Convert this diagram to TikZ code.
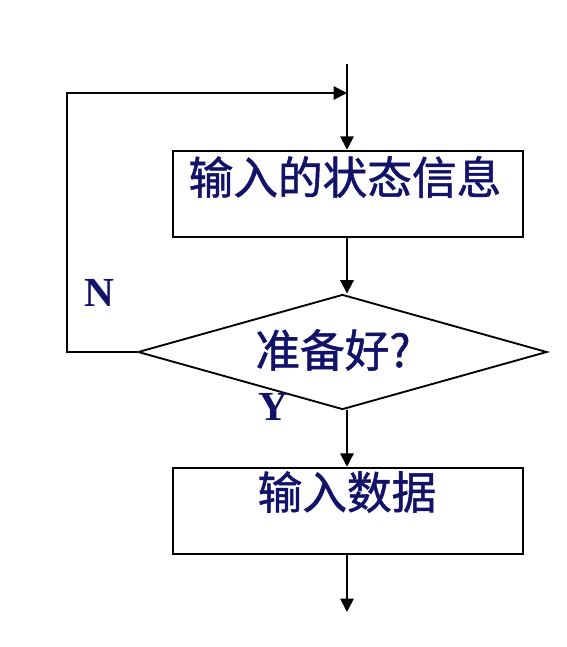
\documentclass[tikz,border=0pt]{standalone}
\usepackage{fontspec}
\setmainfont{Liberation Serif}
\newfontfamily\cjk{Noto Sans CJK SC}[FakeBold=1.2]
\usetikzlibrary{shapes.geometric,arrows.meta}
\definecolor{navy}{RGB}{18,18,105}
\begin{document}
\begin{tikzpicture}[x=0.75pt,y=-0.75pt,
  line width=1.4pt,
  arr/.style={-{Triangle[length=10pt,width=10pt]}},
  box/.style={draw,rectangle,inner sep=0pt,minimum width=262.5pt,minimum height=65pt},
  dia/.style={draw,diamond,inner sep=0pt,aspect=3.56,minimum width=306.75pt,minimum height=86.25pt},
  cn/.style={font=\cjk\fontsize{33.5}{38}\selectfont,text=navy,inner sep=0pt},
  yn/.style={font=\bfseries\fontsize{31}{34}\selectfont,text=navy,inner sep=0pt}]
\useasboundingbox (0,0) rectangle (567,647);
\coordinate (start) at (347,64);
\coordinate (merge) at (347,93);
\coordinate (loopx) at (67,352);
\coordinate (finish) at (347,612);
\node[box] (b1) at (348,194) {};
\node[cn] (t1) at (345,177) {输入的状态信息};
\node[dia] (d) at (342.5,352) {};
\node[cn] (t2) at (333,350) {准备好?};
\node[box] (b2) at (348,511) {};
\node[cn] (t3) at (347,492) {输入数据};
\node[yn] (N) at (99,293) {N};
\node[yn] (Y) at (273,407) {Y};
\draw[arr] (start) -- (b1.north -| start);
\draw[arr] (b1.south -| start) -- (d.north -| start);
\draw[arr] (d.west) -- (loopx) |- (merge);
\draw[arr] (d.south -| start) -- (b2.north -| start);
\draw[arr] (b2.south -| start) -- (finish);
\end{tikzpicture}
\end{document}
